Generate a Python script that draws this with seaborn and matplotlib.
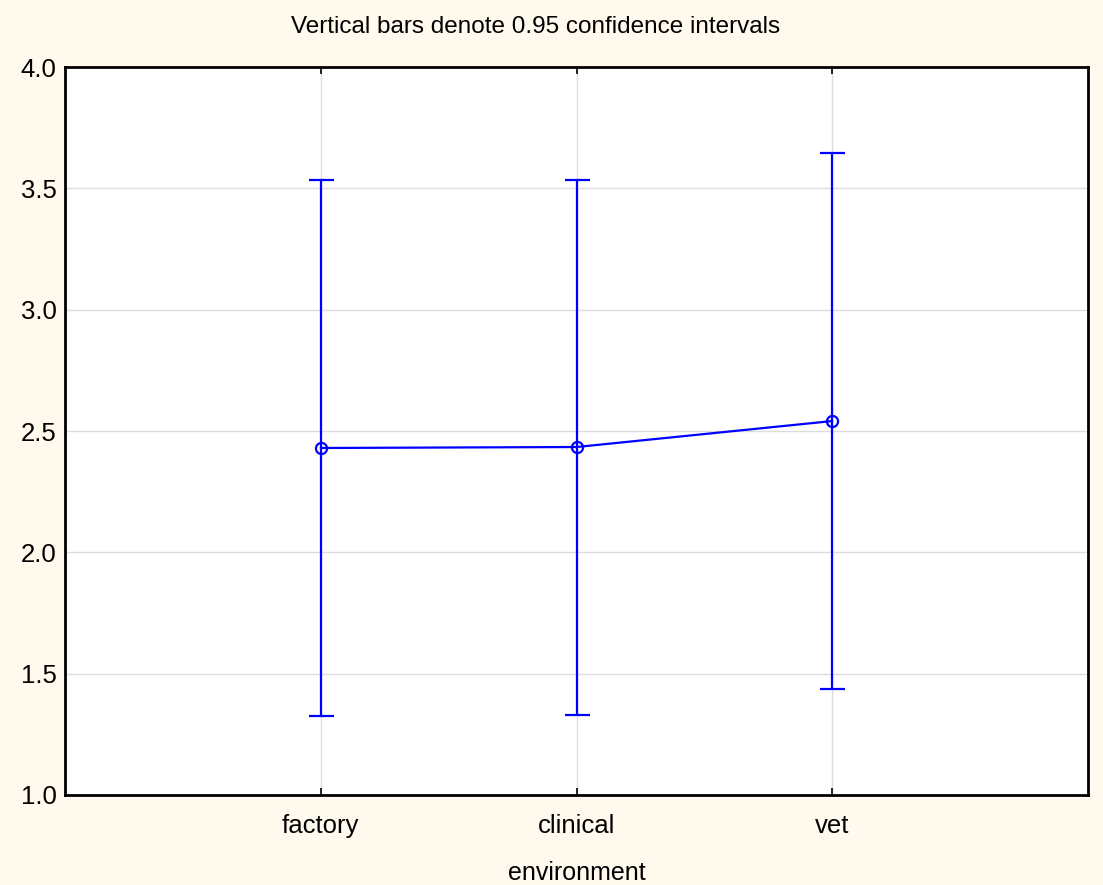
import matplotlib
matplotlib.use("Agg")
import matplotlib.pyplot as plt
import seaborn as sns
import pandas as pd

# --- data ---
environments = ["factory", "clinical", "vet"]
means = [2.430, 2.434, 2.541]
ci_upper = [3.534, 3.534, 3.646]
ci_lower = [1.326, 1.330, 1.437]

df = pd.DataFrame({"environment": environments, "mean": means})
err_low = [m - lo for m, lo in zip(means, ci_lower)]
err_high = [hi - m for m, hi in zip(means, ci_upper)]

sns.set_style("white")
plt.rcParams["font.family"] = ["Liberation Sans", "DejaVu Sans"]
plt.rcParams["text.color"] = "black"
plt.rcParams["axes.labelcolor"] = "black"

bg = "#FFF9EE"
blue = "#0000FF"

fig = plt.figure(figsize=(11.03, 8.85), dpi=100, facecolor=bg)
ax = fig.add_axes([65 / 1103, 1 - 795 / 885, (1088 - 65) / 1103, (795 - 67) / 885])
ax.set_facecolor("white")

# grid first so marks sit on top
for y in [1.5, 2.0, 2.5, 3.0, 3.5]:
    ax.axhline(y, color="#DDDDDD", lw=1, zorder=0)
for x in range(len(environments)):
    ax.axvline(x, color="#DDDDDD", lw=1, zorder=0)

ax.errorbar(range(len(environments)), means, yerr=[err_low, err_high],
            fmt="none", ecolor=blue, elinewidth=1.6, capsize=9, capthick=1.6, zorder=2)
sns.lineplot(data=df, x="environment", y="mean", ax=ax, color=blue, lw=1.6,
             marker="o", markersize=8, markerfacecolor="none",
             markeredgecolor=blue, markeredgewidth=1.6, sort=False, zorder=3)

ax.set_xlim(-1, 3)
ax.set_ylim(1.0, 4.0)
ax.set_xticks(range(len(environments)))
ax.set_xticklabels(environments)
ax.set_yticks([1.0, 1.5, 2.0, 2.5, 3.0, 3.5, 4.0])
ax.set_yticklabels(["1.0", "1.5", "2.0", "2.5", "3.0", "3.5", "4.0"])
ax.tick_params(axis="both", labelsize=18.5, colors="black", direction="in",
               length=5, width=1.2, top=True, bottom=True, left=False, right=False)
ax.tick_params(axis="x", pad=14)
ax.tick_params(axis="y", pad=6)
ax.set_xlabel("environment", fontsize=18, labelpad=16, color="black")
ax.set_ylabel("")
for s in ax.spines.values():
    s.set_visible(True)
    s.set_color("black")
    s.set_linewidth(2)

fig.text(536 / 1103, 1 - 27 / 885, "Vertical bars denote 0.95 confidence intervals",
         ha="center", va="center", fontsize=17.5, color="black")

fig.savefig("out.png", dpi=100, facecolor=bg)
